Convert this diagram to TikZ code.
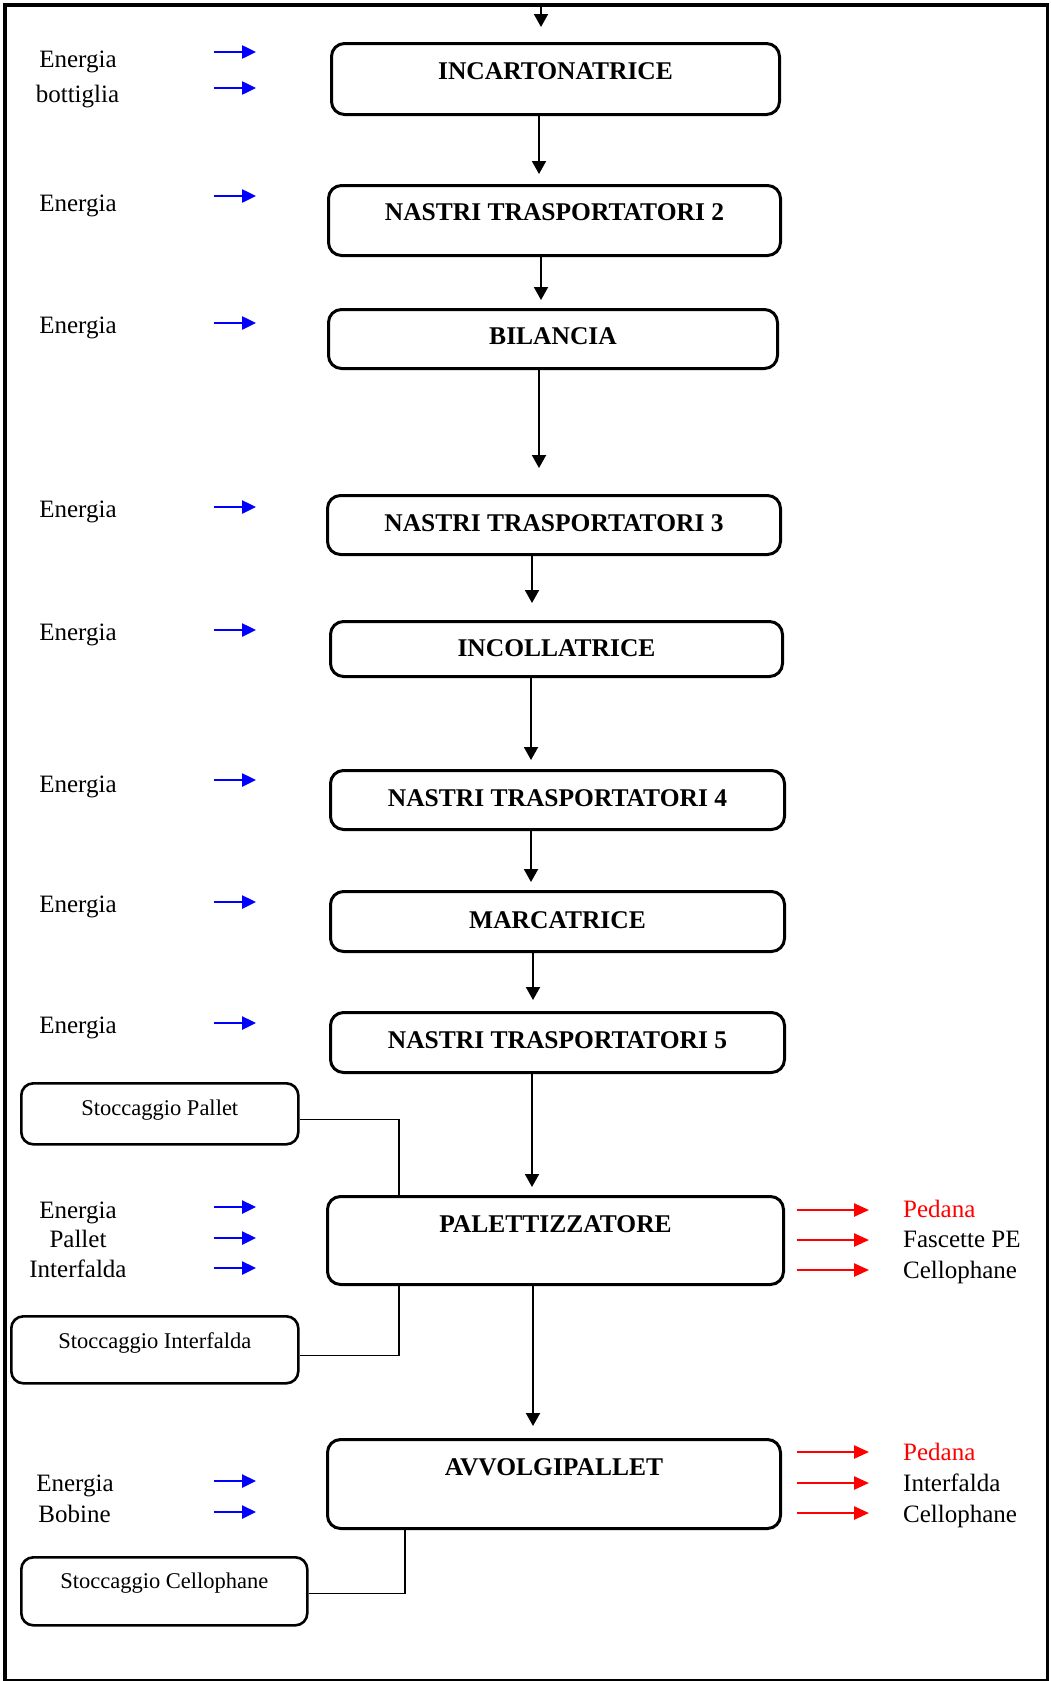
\documentclass[tikz,border=0pt]{standalone}
\usepackage{fontspec}
\setmainfont{Liberation Serif}
\usetikzlibrary{arrows.meta,calc}
\begin{document}
\begin{tikzpicture}[x=1pt,y=-1pt,
  box/.style={draw, line width=3pt, rounded corners=13pt, anchor=north west, inner sep=0pt},
  title/.style={font=\fontsize{25.5}{30}\selectfont\bfseries, anchor=base},
  lbl/.style={font=\fontsize{25}{30}\selectfont, anchor=base, inner sep=0pt},
  rlbl/.style={font=\fontsize{25}{30}\selectfont, anchor=base west, inner sep=0pt},
  store/.style={font=\fontsize{22.5}{27}\selectfont, anchor=base},
  flow/.style={line width=2pt, -{Triangle[length=13pt,width=14pt]}},
  inflow/.style={blue, line width=2.5pt, -{Triangle[length=14pt,width=13pt]}},
  outflow/.style={red, line width=2.5pt, -{Triangle[length=15pt,width=13pt]}},
  link/.style={line width=1.6pt},
]
\useasboundingbox (0,0) rectangle (1050,1681);

% outer frame
\draw[line width=4pt] (1047,5) -- (5,5) -- (5,1680);
\draw[line width=3pt] (1047.5,3) -- (1047.5,1680);
\draw[line width=2pt] (3,1679.5) -- (1049,1679.5);

% process boxes
\node[box, minimum width=448, minimum height=71] (inc)    at (330,42)   {};
\node[box, minimum width=452, minimum height=70] (nt2)    at (327,184)  {};
\node[box, minimum width=449, minimum height=59] (bil)    at (327,308)  {};
\node[box, minimum width=453, minimum height=59] (nt3)    at (326,494)  {};
\node[box, minimum width=452, minimum height=55] (incoll) at (329,620)  {};
\node[box, minimum width=454, minimum height=59] (nt4)    at (329,769)  {};
\node[box, minimum width=454, minimum height=60] (marc)   at (329,890)  {};
\node[box, minimum width=454, minimum height=60] (nt5)    at (329,1011) {};
\node[box, minimum width=456, minimum height=88] (pal)    at (326,1195) {};
\node[box, minimum width=453, minimum height=89] (avv)    at (326,1438) {};

% box titles
\node[title] (tinc)    at (inc.center |- 0,79)     {INCARTONATRICE};
\node[title] (tnt2)    at (nt2.center |- 0,220)    {NASTRI TRASPORTATORI 2};
\node[title] (tbil)    at (bil.center |- 0,344)    {BILANCIA};
\node[title] (tnt3)    at (nt3.center |- 0,531)    {NASTRI TRASPORTATORI 3};
\node[title] (tincoll) at (incoll.center |- 0,656) {INCOLLATRICE};
\node[title] (tnt4)    at (nt4.center |- 0,806)    {NASTRI TRASPORTATORI 4};
\node[title] (tmarc)   at (marc.center |- 0,928)   {MARCATRICE};
\node[title] (tnt5)    at (nt5.center |- 0,1048)   {NASTRI TRASPORTATORI 5};
\node[title] (tpal)    at (pal.center |- 0,1232)   {PALETTIZZATORE};
\node[title] (tavv)    at (avv.center |- 0,1475)   {AVVOLGIPALLET};

% storage boxes
\node[box, line width=2.6pt, rounded corners=12pt, minimum width=277, minimum height=61] (spal) at (20,1082) {};
\node[box, line width=2.6pt, rounded corners=12pt, minimum width=287, minimum height=67] (sint) at (10,1315) {};
\node[box, line width=2.6pt, rounded corners=12pt, minimum width=286, minimum height=68] (scel) at (20,1556) {};
\node[store] (tspal) at (spal.center |- 0,1115) {Stoccaggio Pallet};
\node[store] (tsint) at (sint.center |- 0,1348) {Stoccaggio Interfalda};
\node[store] (tscel) at (scel.center |- 0,1588) {Stoccaggio Cellophane};

% main flow
\coordinate (entry) at (541,5);
\coordinate (x1) at (539,0);
\coordinate (x2) at (541,0);
\coordinate (x3) at (539,0);
\coordinate (x4) at (532,0);
\coordinate (x5) at (531,0);
\coordinate (x6) at (531,0);
\coordinate (x7) at (533,0);
\coordinate (x8) at (532,0);
\coordinate (x9) at (533,0);
\draw[flow, shorten >=15pt] (entry) -- (inc.north -| entry);
\draw[flow, shorten >=10pt] (inc.south -| x1) -- (nt2.north -| x1);
\draw[flow, shorten >=8pt]  (nt2.south -| x2) -- (bil.north -| x2);
\draw[flow, shorten >=26pt] (bil.south -| x3) -- (nt3.north -| x3);
\draw[flow, shorten >=17pt] (nt3.south -| x4) -- (incoll.north -| x4);
\draw[flow, shorten >=9pt]  (incoll.south -| x5) -- (nt4.north -| x5);
\draw[flow, shorten >=8pt]  (nt4.south -| x6) -- (marc.north -| x6);
\draw[flow, shorten >=11pt] (marc.south -| x7) -- (nt5.north -| x7);
\draw[flow, shorten >=8pt]  (nt5.south -| x8) -- (pal.north -| x8);
\draw[flow, shorten >=12pt] (pal.south -| x9) -- (avv.north -| x9);

% storage links
\coordinate (lx1) at (399,0);
\coordinate (lx2) at (405,0);
\draw[link] ($(spal.east)+(0,5.5)$) -| (pal.north -| lx1);
\draw[link] ($(sint.east)+(0,5.5)$) -| (pal.south -| lx1);
\draw[link] ($(scel.east)+(0,2)$) -| (avv.south -| lx2);

% inputs
\node[lbl] (e1) at (78,67)   {Energia};
\node[lbl] (b1) at (77.5,102) {bottiglia};
\node[lbl] (e2) at (78,211)  {Energia};
\node[lbl] (e3) at (78,333)  {Energia};
\node[lbl] (e4) at (78,517)  {Energia};
\node[lbl] (e5) at (78,640)  {Energia};
\node[lbl] (e6) at (78,792)  {Energia};
\node[lbl] (e7) at (78,912)  {Energia};
\node[lbl] (e8) at (78,1033) {Energia};
\node[lbl] (e9) at (78,1218) {Energia};
\node[lbl] (p9) at (78,1247) {Pallet};
\node[lbl] (i9) at (78,1277) {Interfalda};
\node[lbl] (e10) at (75,1491) {Energia};
\node[lbl] (b10) at (74.5,1522) {Bobine};

\foreach \yy in {52,88,196,323,507,630,780,902,1023,1207,1238,1268,1481,1512}
  \draw[inflow] (214,\yy) -- (256,\yy);

% outputs
\foreach \yy in {1210,1240,1270,1452,1483,1513}
  \draw[outflow] (797,\yy) -- (869,\yy);
\node[rlbl, text=red] (o1) at (903,1217) {Pedana};
\node[rlbl] (o2) at (903,1247) {Fascette PE};
\node[rlbl] (o3) at (903,1278) {Cellophane};
\node[rlbl, text=red] (o4) at (903,1460) {Pedana};
\node[rlbl] (o5) at (903,1491) {Interfalda};
\node[rlbl] (o6) at (903,1522) {Cellophane};
\end{tikzpicture}
\end{document}
